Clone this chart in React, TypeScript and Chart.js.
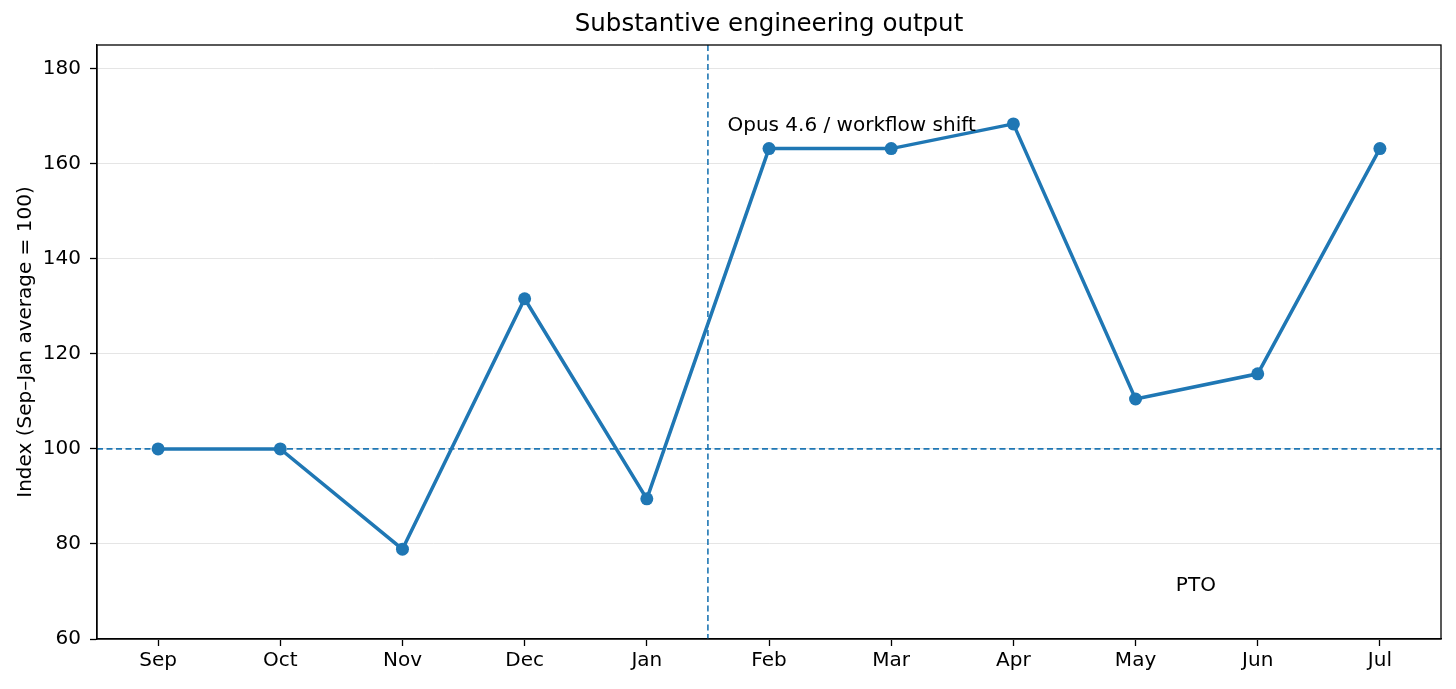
import React, { useEffect, useRef } from "react";
import { Chart, registerables } from "chart.js";

Chart.register(...registerables);

const months = ["Sep", "Oct", "Nov", "Dec", "Jan", "Feb", "Mar", "Apr", "May", "Jun", "Jul"];
const indexValues = [100, 100, 78.9, 131.6, 89.5, 163.2, 163.2, 168.4, 110.5, 115.8, 163.2];
const yTicks = [60, 80, 100, 120, 140, 160, 180];
const baseline = 100;
const shiftAt = 4.5;
const notes = [
  { text: "Opus 4.6 / workflow shift", x: 4.66, y: 166.8 },
  { text: "PTO", x: 8.33, y: 70 },
];

const BLUE = "#1f77b4";
const FONT = "'DejaVu Sans', sans-serif";

const decorations = {
  id: "decorations",
  beforeDatasetsDraw(chart: any) {
    const { ctx, chartArea: a, scales } = chart;
    ctx.save();
    ctx.strokeStyle = BLUE;
    ctx.lineWidth = 1.6;
    ctx.setLineDash([6, 3.5]);
    const yb = scales.y.getPixelForValue(baseline);
    ctx.beginPath();
    ctx.moveTo(a.left, yb);
    ctx.lineTo(a.right, yb);
    ctx.stroke();
    const xs = scales.x.getPixelForValue(shiftAt);
    ctx.beginPath();
    ctx.moveTo(xs, a.top);
    ctx.lineTo(xs, a.bottom);
    ctx.stroke();
    ctx.restore();
  },
  afterDraw(chart: any) {
    const { ctx, chartArea: a, scales } = chart;
    ctx.save();
    // full box
    ctx.strokeStyle = "#000";
    ctx.lineWidth = 1.3;
    ctx.strokeRect(a.left, a.top, a.right - a.left, a.bottom - a.top);

    ctx.fillStyle = "#000";
    ctx.font = `20px ${FONT}`;
    ctx.textAlign = "left";
    ctx.textBaseline = "alphabetic";
    notes.forEach((n) => {
      ctx.fillText(n.text, scales.x.getPixelForValue(n.x), scales.y.getPixelForValue(n.y));
    });

    ctx.font = `24.5px ${FONT}`;
    ctx.textAlign = "center";
    ctx.fillText("Substantive engineering output", (a.left + a.right) / 2, 31);

    ctx.font = `20px ${FONT}`;
    ctx.translate(31, (a.top + a.bottom) / 2);
    ctx.rotate(-Math.PI / 2);
    ctx.fillText("Index (Sep\u2013Jan average = 100)", 0, 0);
    ctx.restore();
  },
};

export default function App() {
  const canvasRef = useRef<HTMLCanvasElement>(null);

  useEffect(() => {
    document.body.style.margin = "0";
    if (!canvasRef.current) return;

    const chart = new Chart(canvasRef.current, {
      type: "line",
      data: {
        datasets: [
          {
            data: indexValues.map((v, i) => ({ x: i, y: v })),
            borderColor: BLUE,
            backgroundColor: BLUE,
            borderWidth: 3.5,
            pointRadius: 6.5,
            pointBorderWidth: 0,
            pointBackgroundColor: BLUE,
            tension: 0,
            fill: false,
          },
        ],
      },
      options: {
        animation: false,
        responsive: false,
        devicePixelRatio: 1,
        layout: { padding: { top: 45, right: 15, left: 0, bottom: 0 } },
        plugins: {
          legend: { display: false },
          title: { display: false },
          tooltip: { enabled: false },
        },
        scales: {
          x: {
            type: "linear",
            min: -0.5,
            max: 10.5,
            afterBuildTicks: (scale: any) => {
              scale.ticks = months.map((_, i) => ({ value: i }));
            },
            afterFit: (scale: any) => {
              scale.height = 50;
            },
            ticks: {
              color: "#000",
              font: { family: FONT, size: 20 },
              padding: 3,
              maxRotation: 0,
              autoSkip: false,
              callback: (v: any) => months[v] ?? "",
            },
            grid: { drawOnChartArea: false, drawTicks: true, tickLength: 7, tickColor: "#000", tickWidth: 1.3 },
            border: { display: true, color: "#000", width: 1.3 },
          },
          y: {
            min: 60,
            max: 185,
            afterBuildTicks: (scale: any) => {
              scale.ticks = yTicks.map((v) => ({ value: v }));
            },
            afterFit: (scale: any) => {
              scale.width = 97;
            },
            ticks: {
              color: "#000",
              font: { family: FONT, size: 20 },
              padding: 9,
            },
            grid: { color: "#e5e5e5", lineWidth: 1, drawTicks: true, tickLength: 7, tickColor: "#000", tickWidth: 1.3 },
            border: { display: true, color: "#000", width: 1.3 },
          },
        },
      },
      plugins: [decorations],
    });

    return () => {
      chart.destroy();
    };
  }, []);

  return (
    <div style={{ width: 1456, height: 689, background: "#fff" }}>
      <canvas ref={canvasRef} width={1456} height={689} />
    </div>
  );
}
